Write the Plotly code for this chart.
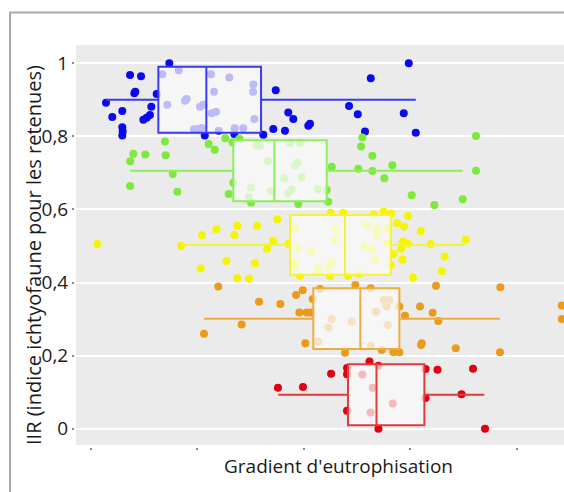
import plotly.graph_objects as go

# ---------------- data ----------------
groups = ["bleu", "vert", "jaune", "orange", "rouge"]
point_colors = ["#0a0af0", "#7fe83c", "#f5f500", "#ec9a1c", "#e00010"]
box_colors = ["#3a3af5", "#8cee5c", "#f3f33c", "#efac3e", "#e23a3a"]

blue_x = [0.736, 0.367, 0.470, 0.416, 0.407, 0.617, 0.141, 0.294, 0.200, 0.567, 0.554, 0.523, 0.492,
          0.294, 0.298, 0.294, 1.069, 0.670, 0.824, 0.717, 0.883, 0.899, 1.024, 1.055, 0.968, 1.008,
          1.040, 1.128, 1.300, 1.156, 1.525, 1.523, 1.134, 1.175, 1.535, 1.200, 1.350, 1.431, 1.347,
          2.986, 2.629, 1.736, 2.425, 2.507, 2.939, 1.854, 1.901, 2.042, 2.058, 1.713, 1.823, 1.619,
          2.575, 3.052]
blue_y = [1.000, 0.968, 0.964, 0.922, 0.918, 0.916, 0.892, 0.869, 0.853, 0.881, 0.858, 0.851, 0.845,
          0.825, 0.813, 0.802, 0.802, 0.970, 0.981, 0.886, 0.897, 0.902, 0.881, 0.886, 0.819, 0.820,
          0.823, 0.970, 0.961, 0.922, 0.942, 0.922, 0.863, 0.867, 0.847, 0.815, 0.822, 0.822, 0.806,
          1.000, 0.959, 0.926, 0.883, 0.860, 0.863, 0.865, 0.847, 0.829, 0.834, 0.820, 0.815, 0.804,
          0.813, 0.810]

green_x = [0.695, 0.398, 0.510, 0.369, 0.702, 1.106, 1.163, 1.262, 1.330, 1.394, 0.768, 0.367, 0.811,
           1.294, 1.337, 1.504, 1.557, 1.588, 1.664, 1.504, 1.482, 1.689, 1.870, 1.964, 1.943, 1.917,
           1.817, 1.980, 1.886, 1.854, 2.131, 2.215, 2.230, 1.948, 2.262, 2.550, 2.538, 2.644, 2.512,
           2.644, 2.832, 2.757, 3.014, 3.227, 3.493, 3.618, 3.618]
green_y = [0.786, 0.752, 0.750, 0.732, 0.748, 0.779, 0.763, 0.795, 0.784, 0.793, 0.697, 0.664, 0.648,
           0.642, 0.673, 0.618, 0.774, 0.774, 0.732, 0.660, 0.633, 0.650, 0.782, 0.782, 0.728, 0.719,
           0.685, 0.688, 0.655, 0.644, 0.656, 0.653, 0.621, 0.615, 0.717, 0.797, 0.772, 0.747, 0.711,
           0.705, 0.721, 0.685, 0.639, 0.612, 0.628, 0.801, 0.706]

yellow_x = [0.059, 0.846, 1.043, 1.178, 1.375, 1.347, 1.560, 1.751, 1.711, 1.654, 1.272, 1.031, 1.541,
            1.375, 1.485, 1.854, 2.253, 2.371, 2.657, 2.751, 2.820, 2.979, 2.876, 2.942, 3.099, 2.929,
            2.976, 3.193, 3.522, 2.845, 2.914, 2.926, 3.324, 3.296, 3.026, 2.817, 1.964, 2.246, 2.418,
            2.519, 1.917, 2.300, 2.287, 1.943, 2.068, 1.917, 1.917, 2.136, 2.121, 2.262, 2.230, 2.591,
            2.685, 2.685, 2.779, 2.779, 2.575, 2.644, 2.669]
yellow_y = [0.505, 0.500, 0.529, 0.546, 0.555, 0.530, 0.555, 0.573, 0.514, 0.492, 0.459, 0.438, 0.453,
            0.412, 0.410, 0.505, 0.591, 0.591, 0.586, 0.594, 0.589, 0.582, 0.562, 0.553, 0.541, 0.512,
            0.507, 0.505, 0.517, 0.478, 0.492, 0.463, 0.471, 0.431, 0.414, 0.448, 0.418, 0.418, 0.418,
            0.423, 0.548, 0.546, 0.516, 0.495, 0.486, 0.457, 0.443, 0.439, 0.430, 0.457, 0.443, 0.555,
            0.548, 0.530, 0.548, 0.509, 0.500, 0.489, 0.463]

orange_x = [1.196, 1.579, 1.779, 1.927, 1.990, 1.416, 1.062, 1.958, 2.027, 2.065, 2.084, 2.014, 2.387,
            2.484, 2.152, 2.262, 2.230, 2.450, 2.136, 2.629, 2.754, 2.804, 2.779, 2.679, 2.789, 2.629,
            2.732, 2.841, 2.898, 2.898, 3.242, 3.847, 3.092, 3.211, 2.951, 3.264, 3.108, 3.102, 3.428,
            3.844, 4.424, 4.424]
orange_y = [0.389, 0.347, 0.341, 0.366, 0.379, 0.285, 0.260, 0.318, 0.318, 0.318, 0.355, 0.234, 0.208,
            0.393, 0.382, 0.300, 0.276, 0.293, 0.238, 0.384, 0.352, 0.352, 0.334, 0.320, 0.284, 0.227,
            0.215, 0.209, 0.209, 0.334, 0.391, 0.387, 0.334, 0.317, 0.309, 0.295, 0.234, 0.229, 0.220,
            0.209, 0.337, 0.300]

red_x = [1.757, 1.992, 2.256, 2.406, 2.406, 2.617, 2.701, 3.144, 3.144, 3.256, 3.590, 3.482, 2.406,
         2.701, 3.703, 2.549, 2.648, 2.836, 2.627]
red_y = [0.112, 0.114, 0.150, 0.166, 0.149, 0.184, 0.172, 0.163, 0.084, 0.161, 0.164, 0.094, 0.049,
         0.000, 0.000, 0.148, 0.112, 0.069, 0.044]

# box statistics (horizontal boxes)
box_center = [0.900, 0.706, 0.503, 0.301, 0.093]
box_height = [0.180, 0.167, 0.164, 0.166, 0.167]
box_q1 = [0.633, 1.337, 1.870, 2.089, 2.415]
box_median = [1.084, 1.723, 2.387, 2.531, 2.683]
box_q3 = [1.598, 2.215, 2.817, 2.898, 3.133]
box_low = [0.141, 0.367, 0.846, 1.062, 1.760]
box_high = [3.052, 3.493, 3.515, 3.844, 3.696]

x_ticks = [0, 1, 2, 3, 4]
y_ticks = [0, 0.2, 0.4, 0.6, 0.8, 1]
y_ticktext = ["0", "0,2", "0,4", "0,6", "0,8", "1"]

x_title = "Gradient d'eutrophisation"
y_title = "IIR (indice ichtyofaune pour les retenues)"

# ---------------- figure ----------------
W, H = 564, 492
ML, MR, MT, MB = 74, 0, 45, 45
x_range = [-0.141, 4.445]
y_range = [-0.0446, 1.0498]
FONT = "Open Sans"

xs = [blue_x, green_x, yellow_x, orange_x, red_x]
ys = [blue_y, green_y, yellow_y, orange_y, red_y]

fig = go.Figure()
for i in range(len(groups)):
    fig.add_trace(go.Scatter(
        x=xs[i], y=ys[i], mode="markers", name=groups[i],
        marker=dict(color=point_colors[i], size=8, line=dict(width=0)),
        showlegend=False, hoverinfo="skip", xaxis="x", yaxis="y"))

for i in range(len(groups)):
    fig.add_trace(go.Box(
        orientation="h", y=[box_center[i]], q1=[box_q1[i]], median=[box_median[i]],
        q3=[box_q3[i]], lowerfence=[box_low[i]], upperfence=[box_high[i]],
        width=box_height[i], whiskerwidth=0, boxpoints=False,
        line=dict(color=box_colors[i], width=2),
        fillcolor="rgba(250,250,250,0.74)", showlegend=False, hoverinfo="skip",
        xaxis="x2", yaxis="y2"))

pw = W - ML - MR
ph = H - MT - MB

fig.update_layout(
    width=W, height=H, autosize=False,
    margin=dict(l=ML, r=MR, t=MT, b=MB, pad=0, autoexpand=False),
    paper_bgcolor="white", plot_bgcolor="#ebebeb",
    font=dict(family=FONT, size=19, color="#1a1a1a"),
    showlegend=False,
    xaxis=dict(range=x_range, domain=[2 / pw, 1], anchor="free", position=0,
               tickvals=x_ticks, showticklabels=False, ticks="outside", ticklen=2,
               tickwidth=2, tickcolor="#8a8a8a", showgrid=False, zeroline=False,
               showline=False, fixedrange=True),
    yaxis=dict(range=y_range, domain=[2 / ph, 1], anchor="free", position=0,
               tickvals=y_ticks, ticktext=y_ticktext, ticks="outside", ticklen=2,
               tickwidth=2, tickcolor="#8a8a8a", showgrid=True, gridcolor="white",
               gridwidth=1.5, zeroline=False, showline=False, fixedrange=True,
               tickfont=dict(size=19, color="#1a1a1a")),
    xaxis2=dict(range=x_range, overlaying="x", anchor="y2", visible=False, fixedrange=True),
    yaxis2=dict(range=y_range, overlaying="y", anchor="x2", visible=False, fixedrange=True),
    shapes=[dict(type="rect", xref="paper", yref="paper",
                 x0=(10 - ML) / pw, x1=(620 - ML) / pw,
                 y0=(H - MB - 540) / ph, y1=(H - MB - 12.5) / ph,
                 line=dict(color="#a9a9a9", width=2), fillcolor="rgba(0,0,0,0)",
                 layer="below")],
    annotations=[
        dict(text=x_title, xref="paper", yref="paper",
             x=(338.5 - ML) / pw, y=(H - MB - 466) / ph, showarrow=False,
             xanchor="center", yanchor="middle", font=dict(size=19, color="#1a1a1a")),
        dict(text=y_title, xref="paper", yref="paper", textangle=-90,
             x=(34 - ML) / pw, y=(H - MB - 255) / ph, showarrow=False,
             xanchor="center", yanchor="middle", font=dict(size=20, color="#1a1a1a")),
    ],
)

fig.write_html(
    "out.html",
    config={"displayModeBar": False},
    post_script="document.body.style.margin='0';document.body.style.overflow='hidden';"
                "document.documentElement.style.overflow='hidden';",
)
